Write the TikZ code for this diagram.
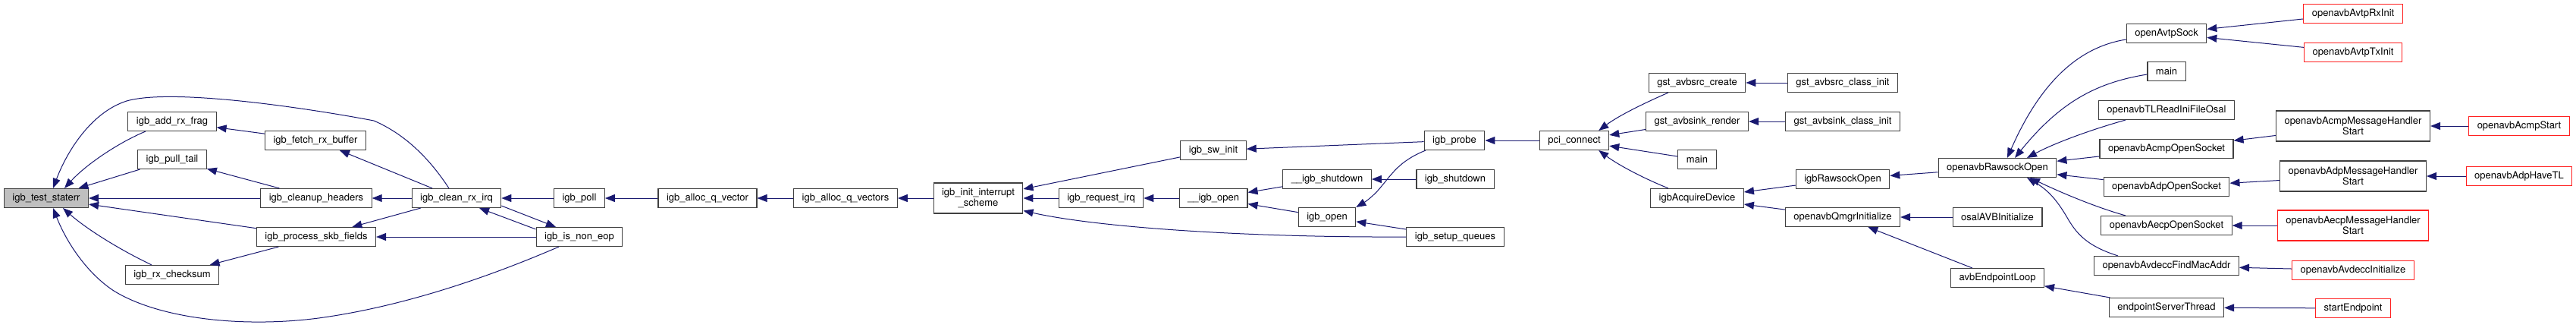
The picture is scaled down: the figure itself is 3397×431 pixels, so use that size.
\documentclass[tikz,border=0pt]{standalone}
\usepackage{fontspec}
\setmainfont{TeX Gyre Heros}
\usetikzlibrary{arrows.meta}
\definecolor{appelbleu}{HTML}{191970}
\definecolor{bord}{HTML}{404040}
\definecolor{racinefond}{HTML}{BFBFBF}
\definecolor{rouge}{HTML}{FF2020}

\begin{document}
\begin{tikzpicture}[x=1pt,y=-1pt,
  fn/.style={draw=bord,line width=1.1pt,fill=white,inner xsep=11pt,inner ysep=0pt,
    minimum height=25pt,align=center,font=\fontsize{13pt}{14pt}\selectfont},
  fndouble/.style={fn,minimum height=40pt},
  racine/.style={fn,fill=racinefond},
  tronque/.style={fn,draw=rouge},
  tronquedouble/.style={fndouble,draw=rouge},
  appel/.style={draw=appelbleu,line width=1pt,-{Triangle[length=13pt,width=10pt]}}]
  \useasboundingbox (0,0) rectangle (3397,431);

  % Noeuds : pilote igb
  \node[racine] (teststaterr) at (61,261) {igb\_test\_staterr};
  \node[fn] (addrxfrag) at (227,160) {igb\_add\_rx\_frag};
  \node[fn] (pulltail) at (227,210) {igb\_pull\_tail};
  \node[fn] (rxchecksum) at (227,362) {igb\_rx\_checksum};
  \node[fn] (fetchrxbuffer) at (416,185) {igb\_fetch\_rx\_buffer};
  \node[fn] (cleanupheaders) at (417,261) {igb\_cleanup\_headers};
  \node[fn] (processskb) at (417,312) {igb\_process\_skb\_fields};
  \node[fn] (cleanrxirq) at (602,261) {igb\_clean\_rx\_irq};
  \node[fn] (poll) at (764,261) {igb\_poll};
  \node[fn] (isnoneop) at (764,312) {igb\_is\_non\_eop};
  \node[fn] (allocqvector) at (933,261) {igb\_alloc\_q\_vector};
  \node[fn] (allocqvectors) at (1115,261) {igb\_alloc\_q\_vectors};
  \node[fndouble] (initscheme) at (1290,261) {igb\_init\_interrupt\\\_scheme};
  \node[fn] (swinit) at (1600,198) {igb\_sw\_init};
  \node[fn] (requestirq) at (1452,261) {igb\_request\_irq};
  \node[fn] (igbopenint) at (1600,261) {\_\_igb\_open};
  \node[fn] (probe) at (1918,185) {igb\_probe};
  \node[fn] (shutdownint) at (1750,236) {\_\_igb\_shutdown};
  \node[fn] (igbopen) at (1750,286) {igb\_open};
  \node[fn] (shutdown) at (1919,236) {igb\_shutdown};
  \node[fn] (setupqueues) at (1919,312) {igb\_setup\_queues};

  % Noeuds : pile AVB
  \node[fn] (pciconnect) at (2076,185) {pci\_connect};
  \node[fn] (avbsrccreate) at (2238,109) {gst\_avbsrc\_create};
  \node[fn] (avbsinkrender) at (2238,160) {gst\_avbsink\_render};
  \node[fn] (mainpci) at (2238,210) {main};
  \node[fn] (acquire) at (2238,261) {igbAcquireDevice};
  \node[fn] (avbsrcclass) at (2430,109) {gst\_avbsrc\_class\_init};
  \node[fn] (avbsinkclass) at (2430,160) {gst\_avbsink\_class\_init};
  \node[fn] (igbrawsock) at (2430,236) {igbRawsockOpen};
  \node[fn] (qmgrinit) at (2430,286) {openavbQmgrInitialize};
  \node[fn] (rawsockopen) at (2634,221) {openavbRawsockOpen};
  \node[fn] (osalinit) at (2634,286) {osalAVBInitialize};
  \node[fn] (endpointloop) at (2634,366) {avbEndpointLoop};
  \node[fn] (avtpsock) at (2857,44) {openAvtpSock};
  \node[fn] (mainraw) at (2857,94) {main};
  \node[fn] (tlreadini) at (2857,145) {openavbTLReadIniFileOsal};
  \node[fn] (acmpsocket) at (2857,196) {openavbAcmpOpenSocket};
  \node[fn] (adpsocket) at (2857,246) {openavbAdpOpenSocket};
  \node[fn] (aecpsocket) at (2857,297) {openavbAecpOpenSocket};
  \node[fn] (findmac) at (2857,350) {openavbAvdeccFindMacAddr};
  \node[fn] (serverthread) at (2857,405) {endpointServerThread};
  \node[tronque] (avtprxinit) at (3103,18) {openavbAvtpRxInit};
  \node[tronque] (avtptxinit) at (3103,69) {openavbAvtpTxInit};
  \node[fndouble] (acmpmhs) at (3103,166) {openavbAcmpMessageHandler\\Start};
  \node[fndouble] (adpmhs) at (3103,232) {openavbAdpMessageHandler\\Start};
  \node[tronquedouble] (aecpmhs) at (3103,297) {openavbAecpMessageHandler\\Start};
  \node[tronque] (avdeccinit) at (3103,356) {openavbAvdeccInitialize};
  \node[tronque] (startendpoint) at (3103,406) {startEndpoint};
  \node[tronque] (acmpstart) at (3322,166) {openavbAcmpStart};
  \node[tronque] (adphavetl) at (3322,232) {openavbAdpHaveTL};

  % Appels vers igb_test_staterr
  \draw[appel] ([xshift=-35pt]addrxfrag.south) .. controls (160,186) and (115,215) .. ([xshift=24pt]teststaterr.north);
  \draw[appel] (pulltail) -- (teststaterr);
  \draw[appel] (cleanupheaders) -- (teststaterr);
  \draw[appel] (processskb) -- (teststaterr);
  \draw[appel] ([xshift=-27pt]rxchecksum.north) .. controls (150,325) and (110,298) .. ([xshift=22pt]teststaterr.south);
  \draw[appel] ([xshift=-10pt]cleanrxirq.north) .. controls (562,202) and (528,174) .. (493,159)
    .. controls (420,145) and (230,115) .. (167,133) .. controls (120,148) and (88,200) .. ([xshift=9pt]teststaterr.north);
  \draw[appel] ([xshift=-27pt]isnoneop.south) .. controls (690,345) and (560,400) .. (420,419)
    .. controls (320,432) and (210,420) .. (150,383) .. controls (115,360) and (88,320) .. ([xshift=9pt]teststaterr.south);

  % Appels internes du pilote
  \draw[appel] (fetchrxbuffer) -- (addrxfrag);
  \draw[appel] (cleanupheaders) -- (pulltail);
  \draw[appel] (processskb) -- (rxchecksum);
  \draw[appel] (cleanrxirq) -- (fetchrxbuffer);
  \draw[appel] (cleanrxirq) -- (cleanupheaders);
  \draw[appel] (cleanrxirq) -- (processskb);
  \draw[appel] (isnoneop) -- (processskb);
  \draw[appel] ([yshift=-3pt]isnoneop.north west) -- ([xshift=30pt]cleanrxirq.south);
  \draw[appel] ([yshift=3pt]cleanrxirq.south east) -- ([xshift=-31pt]isnoneop.north);
  \draw[appel] (poll) -- (cleanrxirq);
  \draw[appel] (allocqvector) -- (poll);
  \draw[appel] (allocqvectors) -- (allocqvector);
  \draw[appel] (initscheme) -- (allocqvectors);
  \draw[appel] (swinit) -- (initscheme);
  \draw[appel] (requestirq) -- (initscheme);
  \draw[appel] (setupqueues.west) .. controls (1650,313) and (1450,300) .. ([yshift=4pt]initscheme.south east);
  \draw[appel] (igbopenint) -- (requestirq);
  \draw[appel] (shutdownint) -- (igbopenint);
  \draw[appel] (igbopen) -- (igbopenint);
  \draw[appel] (probe) -- (swinit);
  \draw[appel] (shutdown) -- (shutdownint);
  \draw[appel] ([xshift=-38pt]probe.south) .. controls (1845,212) and (1835,230) .. (1822,245)
    .. controls (1812,258) and (1800,266) .. (igbopen.north east);
  \draw[appel] (setupqueues) -- (igbopen);

  % Appels cote AVB
  \draw[appel] (pciconnect) -- (probe);
  \draw[appel] ([xshift=-38pt]avbsrccreate.south) .. controls (2170,135) and (2135,152) .. ([xshift=-14pt]pciconnect.north east);
  \draw[appel] (avbsinkrender) -- (pciconnect);
  \draw[appel] (mainpci) -- (pciconnect);
  \draw[appel] ([xshift=-38pt]acquire.north) .. controls (2170,236) and (2135,218) .. ([xshift=-14pt]pciconnect.south east);
  \draw[appel] (avbsrcclass) -- (avbsrccreate);
  \draw[appel] (avbsinkclass) -- (avbsinkrender);
  \draw[appel] (igbrawsock) -- (acquire);
  \draw[appel] (qmgrinit) -- (acquire);
  \draw[appel] (rawsockopen) -- (igbrawsock);
  \draw[appel] (osalinit) -- (qmgrinit);
  \draw[appel] (endpointloop) -- (qmgrinit);
  \draw[appel] ([yshift=-8pt]avtpsock.west) .. controls (2740,62) and (2690,110) .. ([xshift=13pt]rawsockopen.north);
  \draw[appel] ([yshift=-4pt]mainraw.west) .. controls (2770,108) and (2720,130) .. ([xshift=23pt]rawsockopen.north);
  \draw[appel] ([xshift=-54pt]tlreadini.south) .. controls (2760,170) and (2710,188) .. ([xshift=39pt]rawsockopen.north);
  \draw[appel] (acmpsocket) -- (rawsockopen);
  \draw[appel] (adpsocket) -- (rawsockopen);
  \draw[appel] ([xshift=-54pt]aecpsocket.north) .. controls (2760,272) and (2710,250) .. ([xshift=43pt]rawsockopen.south);
  \draw[appel] ([xshift=-64pt]findmac.north) .. controls (2755,325) and (2740,310) .. (2728,290)
    .. controls (2712,262) and (2700,250) .. ([xshift=39pt]rawsockopen.south);
  \draw[appel] (serverthread) -- (endpointloop);
  \draw[appel] (avtprxinit) -- (avtpsock);
  \draw[appel] (avtptxinit) -- (avtpsock);
  \draw[appel] (acmpmhs) -- (acmpsocket);
  \draw[appel] (adpmhs) -- (adpsocket);
  \draw[appel] (aecpmhs) -- (aecpsocket);
  \draw[appel] (avdeccinit) -- (findmac);
  \draw[appel] (startendpoint) -- (serverthread);
  \draw[appel] (acmpstart) -- (acmpmhs);
  \draw[appel] (adphavetl) -- (adpmhs);
\end{tikzpicture}
\end{document}
